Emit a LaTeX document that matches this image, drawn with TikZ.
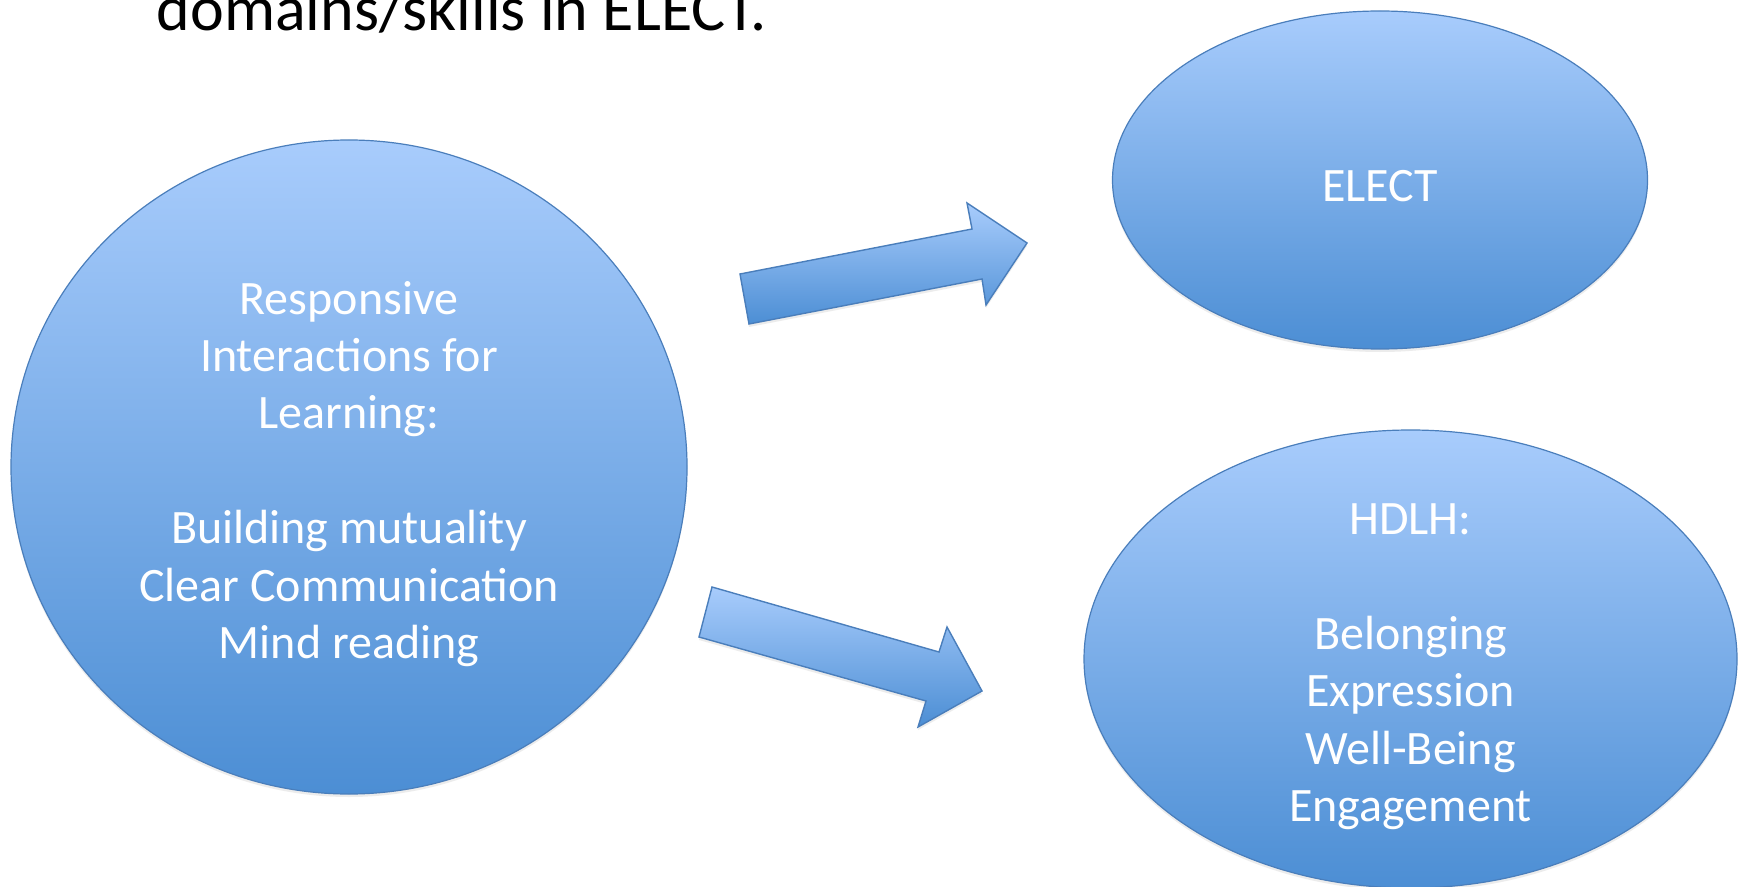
\documentclass[tikz,border=0pt]{standalone}
\usepackage{fontspec}
\setmainfont{Carlito}
\usetikzlibrary{shapes.geometric,shadows}
\definecolor{topblue}{RGB}{168,204,252}
\definecolor{botblue}{RGB}{76,142,212}
\definecolor{edgeblue}{RGB}{74,126,187}
\tikzset{
  blob/.style={ellipse, draw=edgeblue, line width=0.6pt, top color=topblue, bottom color=botblue,
    inner sep=0pt, drop shadow={shadow xshift=0pt, shadow yshift=-1.5pt, opacity=0.15}},
  blobtext/.style={text=white, align=center, font=\fontsize{24}{28.7}\selectfont, inner sep=0pt},
  blockarrow/.style={draw=edgeblue, line width=0.7pt, line join=miter, top color=topblue, bottom color=botblue,
    drop shadow={shadow xshift=0pt, shadow yshift=-1.5pt, opacity=0.15}},
}
\begin{document}
\begin{tikzpicture}[x=0.5pt,y=-0.5pt]
\useasboundingbox (0,0) rectangle (1748,887);
\fill[white] (0,0) rectangle (1748,887);

% title (cut at top, as in the reference)
\node[font=\fontsize{32}{38}\selectfont, anchor=base, inner sep=0pt] (title) at (462,31) {domains/skills in ELECT.};

% left circle
\node[blob, minimum width=338pt, minimum height=327pt] (ril) at (349,467) {};
\node[blobtext] (riltext) at (349,474) {Responsive\\Interactions for\\Learning:\\\mbox{}\\Building mutuality\\Clear Communication\\Mind reading};

% ELECT ellipse
\node[blob, minimum width=267.5pt, minimum height=169pt] (elect) at (1380,180) {};
\node[blobtext] (electtext) at (1380,186) {ELECT};

% HDLH ellipse
\node[blob, minimum width=326.5pt, minimum height=229pt] (hdlh) at (1410.5,659) {};
\node[blobtext] (hdlhtext) at (1410.5,667) {HDLH:\\\mbox{}\\Belonging\\Expression\\Well-Being\\Engagement};

% top block arrow
\coordinate (a1) at (740,274);
\coordinate (a2) at (972,229);
\coordinate (a3) at (967,203);
\coordinate (a4) at (1027,243);
\coordinate (a5) at (986,305);
\coordinate (a6) at (982,279);
\coordinate (a7) at (749,324);
\path[blockarrow] (a1) -- (a2) -- (a3) -- (a4) -- (a5) -- (a6) -- (a7) -- cycle;

% bottom block arrow
\coordinate (b1) at (712,587);
\coordinate (b2) at (939,652);
\coordinate (b3) at (947,627);
\coordinate (b4) at (982,691);
\coordinate (b5) at (918,727);
\coordinate (b6) at (926,701);
\coordinate (b7) at (699,637);
\path[blockarrow] (b1) -- (b2) -- (b3) -- (b4) -- (b5) -- (b6) -- (b7) -- cycle;
\end{tikzpicture}
\end{document}
